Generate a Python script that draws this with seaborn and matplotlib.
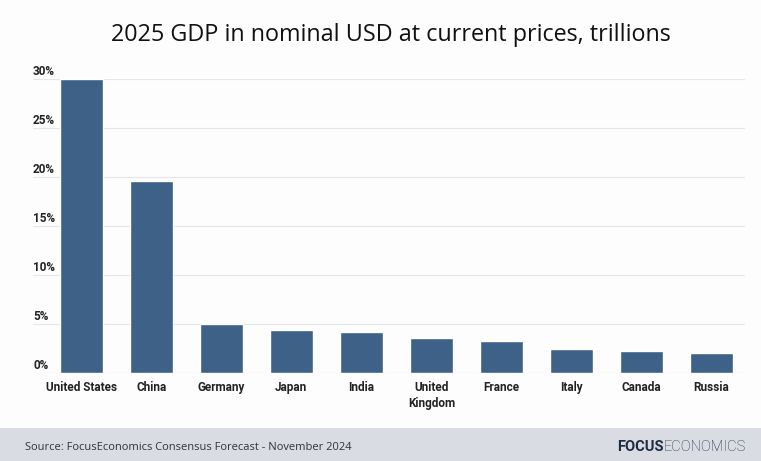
import matplotlib
matplotlib.use("Agg")
import matplotlib.pyplot as plt
import seaborn as sns
import pandas as pd

countries = ["United States", "China", "Germany", "Japan", "India",
             "United\nKingdom", "France", "Italy", "Canada", "Russia"]
gdp = [30.0, 19.6, 5.0, 4.4, 4.2, 3.6, 3.25, 2.45, 2.25, 2.05]
yticks = [0, 5, 10, 15, 20, 25, 30]
ytick_labels = ["0%", "5%", "10%", "15%", "20%", "25%", "30%"]

df = pd.DataFrame({"country": countries, "gdp": gdp})

sns.set_theme(style="white")
plt.rcParams['font.family'] = ['Open Sans', 'DejaVu Sans']

fig = plt.figure(figsize=(7.61, 4.61), dpi=100)
fig.patch.set_facecolor("#fdfdfd")

ax = fig.add_axes([33/761, 1-373/461, (745-33)/761, (373-79)/461])
ax.set_facecolor("#fdfdfd")

sns.barplot(data=df, x="country", y="gdp", color="#3e6187", width=0.62,
            saturation=1, ax=ax, zorder=3)

ax.set_xlim(-0.69, 9.48)
ax.set_ylim(0, 30)
ax.set_yticks(yticks)
ax.yaxis.grid(True, color="#e6e6e6", linewidth=0.8, zorder=0)
ax.set_yticklabels([])
ax.tick_params(axis="y", length=0)
ax.tick_params(axis="x", length=0, pad=6)
for s in ax.spines.values():
    s.set_visible(False)
ax.axhline(0, color="#dddddd", linewidth=0.8, zorder=2)
ax.set_xlabel("")
ax.set_ylabel("")
ax.set_xticks(range(len(countries)))
ax.set_xticklabels(countries, fontsize=8.5, color="#222222",
                   family=["Roboto", "DejaVu Sans"], fontweight="semibold",
                   linespacing=1.3)

for v, lab in zip(yticks, ytick_labels):
    ax.text(0, v + 0.1, lab, transform=ax.get_yaxis_transform(), ha="left",
            va="bottom", fontsize=8.5, color="#222222",
            family=["Roboto", "DejaVu Sans"], fontweight="semibold")

fig.text(391/761, 1-35/461, "2025 GDP in nominal USD at current prices, trillions",
         ha="center", va="center", fontsize=16.8, color="#111111",
         fontweight="medium")

# footer band
fig.patches.append(matplotlib.patches.Rectangle((0, 0), 1, 33/461,
                   transform=fig.transFigure, facecolor="#d9dce3",
                   edgecolor="none", zorder=0))
fig.text(25/761, 1-447/461, "Source: FocusEconomics Consensus Forecast - November 2024",
         ha="left", va="center", fontsize=8, color="#333333")
t1 = fig.text(617/761, 1-447/461, "FOCUS", ha="left", va="center",
              fontsize=10.5, color="#1f2b45", fontweight="bold",
              family=["Roboto", "DejaVu Sans"])
fig.canvas.draw()
bb = t1.get_window_extent()
fig.text(bb.x1/761, 1-447/461, "ECONOMICS", ha="left", va="center",
         fontsize=10.5, color="#1f2b45", fontweight="light",
         family=["Roboto", "DejaVu Sans"])

fig.savefig("out.png", dpi=100, facecolor=fig.get_facecolor())
